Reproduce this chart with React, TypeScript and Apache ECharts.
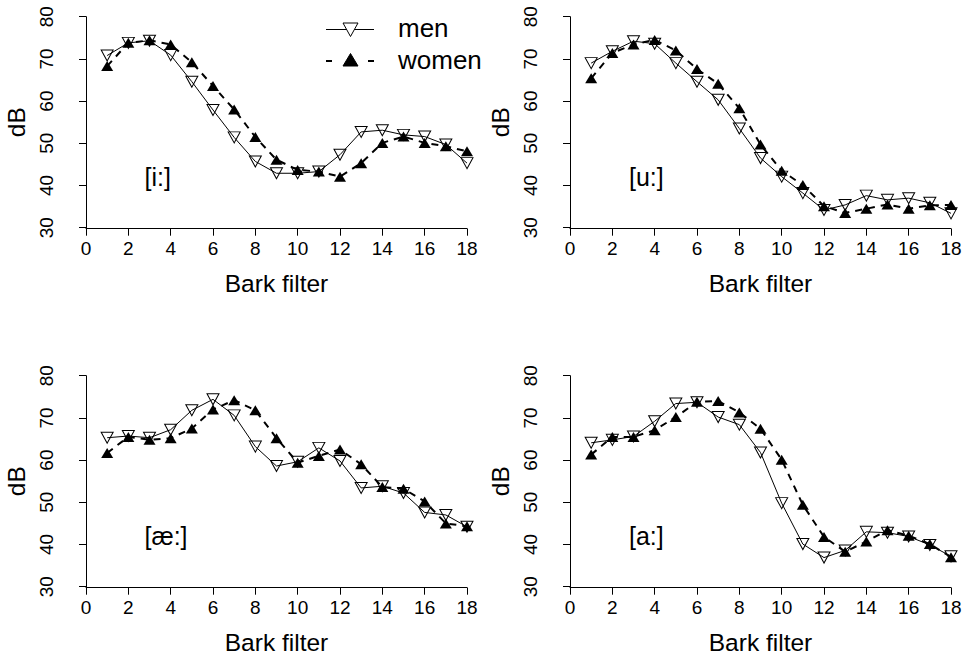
import React, { useEffect, useRef } from 'react';
import * as echarts from 'echarts';

// Bark filter index (x)
const bark = [1, 2, 3, 4, 5, 6, 7, 8, 9, 10, 11, 12, 13, 14, 15, 16, 17, 18];

// [i:]
const iMen = [70.8, 73.8, 74.3, 70.9, 64.6, 57.9, 51.4, 45.7, 42.9, 42.9, 43.3, 47.3, 52.7, 53.1, 52.0, 51.6, 49.7, 45.3];
const iWomen = [68.3, 73.8, 74.4, 73.4, 69.2, 63.6, 58.0, 51.5, 46.1, 43.7, 43.3, 42.1, 45.3, 50.1, 51.6, 50.1, 49.3, 48.1];
// [u:]
const uMen = [69.0, 71.8, 74.2, 73.6, 69.0, 64.6, 60.3, 53.5, 46.5, 42.1, 38.2, 34.2, 35.4, 37.6, 36.6, 37.0, 35.9, 33.4];
const uWomen = [65.4, 71.4, 73.4, 74.5, 72.0, 67.6, 64.1, 58.3, 49.7, 43.5, 40.1, 35.1, 33.5, 34.5, 35.5, 34.5, 35.3, 35.4];
// [æ:]
const aeMen = [65.3, 65.7, 65.3, 67.2, 71.8, 74.4, 70.6, 63.2, 58.6, 59.6, 62.9, 59.8, 53.4, 53.8, 52.2, 47.6, 47.0, 44.2];
const aeWomen = [61.7, 65.5, 64.8, 65.2, 67.5, 72.0, 74.2, 71.8, 65.2, 59.4, 61.0, 62.5, 59.0, 53.6, 53.2, 50.2, 45.0, 44.3];
// [a:]
const aMen = [64.1, 64.8, 65.6, 69.2, 73.4, 73.7, 70.2, 68.4, 61.8, 49.8, 40.1, 36.9, 38.6, 43.0, 42.8, 41.9, 39.9, 37.2];
const aWomen = [61.3, 65.5, 65.5, 67.1, 70.2, 73.8, 74.0, 71.3, 67.4, 60.1, 49.4, 41.8, 38.3, 40.7, 43.4, 42.1, 40.1, 37.0];

const panelLabels = ['[i:]', '[u:]', '[æ:]', '[a:]'];
const menSets = [iMen, uMen, aeMen, aMen];
const womenSets = [iWomen, uWomen, aeWomen, aWomen];
const seriesNames = ['men', 'women'];
const xName = 'Bark filter';
const yName = 'dB';

const FONT = '"Liberation Sans", Arial, Helvetica, sans-serif';

// layout (pixels)
const grids = [
  { left: 86, top: 16.7 },
  { left: 570, top: 16.7 },
  { left: 86, top: 375.7 },
  { left: 570, top: 375.7 },
];
const labelPos = [
  [144.5, 177],
  [629, 177],
  [144.5, 536],
  [629, 536],
];

function buildOption() {
  const grid = grids.map((g) => ({ left: g.left, top: g.top, width: 381, height: 211, containLabel: false }));
  const xAxis = grids.map((_, i) => ({
    gridIndex: i,
    type: 'value',
    min: 0,
    max: 18,
    interval: 2,
    offset: 1,
    axisLine: { show: true, lineStyle: { color: '#000', width: 1 } },
    axisTick: { show: true, length: 7, lineStyle: { color: '#000', width: 1 } },
    axisLabel: { color: '#000', fontSize: 19, fontFamily: FONT, margin: 10 },
    splitLine: { show: false },
    name: xName,
    nameLocation: 'middle',
    nameGap: 42,
    nameTextStyle: { color: '#000', fontSize: 24.5, fontFamily: FONT },
  }));
  const yAxis = grids.map((_, i) => ({
    gridIndex: i,
    type: 'value',
    min: 30,
    max: 80,
    interval: 10,
    offset: 15,
    axisLine: { show: true, lineStyle: { color: '#000', width: 1 } },
    axisTick: { show: true, length: 7, lineStyle: { color: '#000', width: 1 } },
    axisLabel: { color: '#000', fontSize: 19, fontFamily: FONT, margin: 15, rotate: 90 },
    splitLine: { show: false },
    name: yName,
    nameLocation: 'middle',
    nameRotate: 90,
    nameGap: 42,
    nameTextStyle: { color: '#000', fontSize: 24.5, fontFamily: FONT },
  }));
  const series: any[] = [];
  grids.forEach((_, i) => {
    series.push({
      name: seriesNames[1],
      type: 'line',
      xAxisIndex: i,
      yAxisIndex: i,
      data: bark.map((b, k) => [b, womenSets[i][k]]),
      symbol: 'triangle',
      symbolSize: [12, 10],
      itemStyle: { color: '#000', borderWidth: 0 },
      lineStyle: { color: '#000', width: 2, type: [7, 6] },
      silent: true,
    });
    series.push({
      name: seriesNames[0],
      type: 'line',
      xAxisIndex: i,
      yAxisIndex: i,
      data: bark.map((b, k) => [b, menSets[i][k]]),
      symbol: 'triangle',
      symbolRotate: 180,
      symbolSize: [12, 11],
      itemStyle: { color: 'rgba(255,255,255,0)', borderColor: '#000', borderWidth: 1 },
      lineStyle: { color: '#000', width: 1 },
      silent: true,
    });
  });

  const graphic: any[] = [];
  panelLabels.forEach((t, i) => {
    graphic.push({
      type: 'text',
      x: labelPos[i][0],
      y: labelPos[i][1],
      style: { text: t, fill: '#000', fontSize: 25, fontFamily: FONT, textAlign: 'left', textVerticalAlign: 'middle' },
      silent: true,
    });
  });
  // legend (men: solid line + open down triangle; women: dashed + filled up triangle)
  graphic.push(
    { type: 'line', shape: { x1: 326, y1: 29.5, x2: 374, y2: 29.5 }, style: { stroke: '#000', lineWidth: 1 } },
    {
      type: 'polygon',
      shape: { points: [[343, 23], [358, 23], [350.5, 36.5]] },
      style: { fill: '#fff', stroke: '#000', lineWidth: 1 },
    },
    { type: 'line', shape: { x1: 326, y1: 61, x2: 332, y2: 61 }, style: { stroke: '#000', lineWidth: 2 } },
    { type: 'line', shape: { x1: 368, y1: 61, x2: 374, y2: 61 }, style: { stroke: '#000', lineWidth: 2 } },
    {
      type: 'polygon',
      shape: { points: [[350.5, 53.5], [358, 66], [343, 66]] },
      style: { fill: '#000', stroke: '#000', lineWidth: 1 },
    },
    {
      type: 'text',
      x: 398,
      y: 28.2,
      style: { text: seriesNames[0], fill: '#000', fontSize: 26, fontFamily: FONT, textAlign: 'left', textVerticalAlign: 'middle' },
    },
    {
      type: 'text',
      x: 398,
      y: 60.2,
      style: { text: seriesNames[1], fill: '#000', fontSize: 26, fontFamily: FONT, textAlign: 'left', textVerticalAlign: 'middle' },
    }
  );

  return {
    animation: false,
    backgroundColor: '#fff',
    textStyle: { fontFamily: FONT },
    grid,
    xAxis,
    yAxis,
    series,
    graphic,
  };
}

export default function App() {
  const ref = useRef<HTMLDivElement>(null);
  useEffect(() => {
    if (!ref.current) return;
    const chart = echarts.init(ref.current, null, { renderer: 'svg' });
    chart.setOption(buildOption() as any);
    return () => chart.dispose();
  }, []);
  return (
    <div
      ref={ref}
      style={{ position: 'fixed', left: 0, top: 0, width: 966, height: 656, background: '#fff' }}
    />
  );
}
